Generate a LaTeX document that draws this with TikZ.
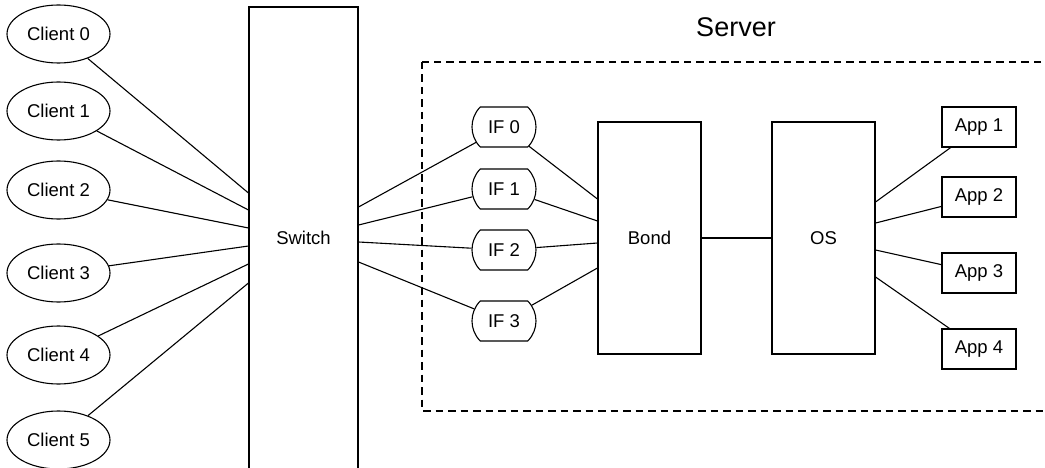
\documentclass[tikz,border=0pt]{standalone}
\usepackage{fontspec}
\setmainfont{Liberation Sans}
\usepackage{tikz}
\usetikzlibrary{calc}
\usetikzlibrary{shapes.geometric,shapes.misc}

\begin{document}
\begin{tikzpicture}[x=1pt, y=-1pt, line width=1.1pt,
    every node/.style={font=\fontsize{18.5}{22}\selectfont},
    client/.style={draw, ellipse, minimum width=103pt, minimum height=58pt, inner sep=0pt},
    tallbox/.style={draw, rectangle, minimum width=103pt, minimum height=232pt},
    iface/.style={draw, rounded rectangle, rounded rectangle arc length=90,
        minimum width=64pt, minimum height=40pt, inner sep=0pt},
    appbox/.style={draw, rectangle, minimum width=74pt, minimum height=40pt, inner sep=0pt}]
    \clip (0,0) rectangle (1045,468);
    % server frame
    \draw[dash pattern=on 7.5pt off 5pt] (422,62) rectangle (1070,411);
    \node[font=\fontsize{27}{32}\selectfont] (srv) at (736,27) {Server};
    % clients and switch
    \node[client] (c0) at (58.5,34) {Client 0};
    \node[client] (c1) at (58.5,111) {Client 1};
    \node[client] (c2) at (58.5,190) {Client 2};
    \node[client] (c3) at (58.5,273) {Client 3};
    \node[client] (c4) at (58.5,355) {Client 4};
    \node[client] (c5) at (58.5,440) {Client 5};
    \node[draw, minimum width=109pt, minimum height=462pt] (sw) at (303.5,238) {Switch};
    \draw (c0) -- ($(sw.west)+(0,-45)$);
    \draw (c1) -- ($(sw.west)+(0,-28)$);
    \draw (c2) -- ($(sw.west)+(0,-10)$);
    \draw (c3) -- ($(sw.west)+(0,8)$);
    \draw (c4) -- ($(sw.west)+(0,26)$);
    \draw (c5) -- ($(sw.west)+(0,45)$);
    % interfaces
    \node[iface] (if0) at (504,127) {IF 0};
    \node[iface] (if1) at (504,189) {IF 1};
    \node[iface] (if2) at (504,250) {IF 2};
    \node[iface] (if3) at (504,321) {IF 3};
    \draw ($(sw.east)+(0,-31)$) -- (if0);
    \draw ($(sw.east)+(0,-13)$) -- (if1);
    \draw ($(sw.east)+(0,4)$) -- (if2);
    \draw ($(sw.east)+(0,24)$) -- (if3);
    % bond and os
    \node[tallbox] (bond) at (649.5,238) {Bond};
    \node[tallbox] (os) at (823.5,238) {OS};
    \draw (if0) -- ($(bond.west)+(0,-39)$);
    \draw (if1) -- ($(bond.west)+(0,-17)$);
    \draw (if2) -- ($(bond.west)+(0,5)$);
    \draw (if3) -- ($(bond.west)+(0,30)$);
    \draw (bond) -- (os);
    % apps
    \node[appbox] (app1) at (979,127) {App 1};
    \node[appbox] (app2) at (979,197) {App 2};
    \node[appbox] (app3) at (979,273) {App 3};
    \node[appbox] (app4) at (979,349) {App 4};
    \draw ($(os.east)+(0,-36)$) -- (app1);
    \draw ($(os.east)+(0,-15)$) -- (app2);
    \draw ($(os.east)+(0,12)$) -- (app3);
    \draw ($(os.east)+(0,39)$) -- (app4);
\end{tikzpicture}
\end{document}
